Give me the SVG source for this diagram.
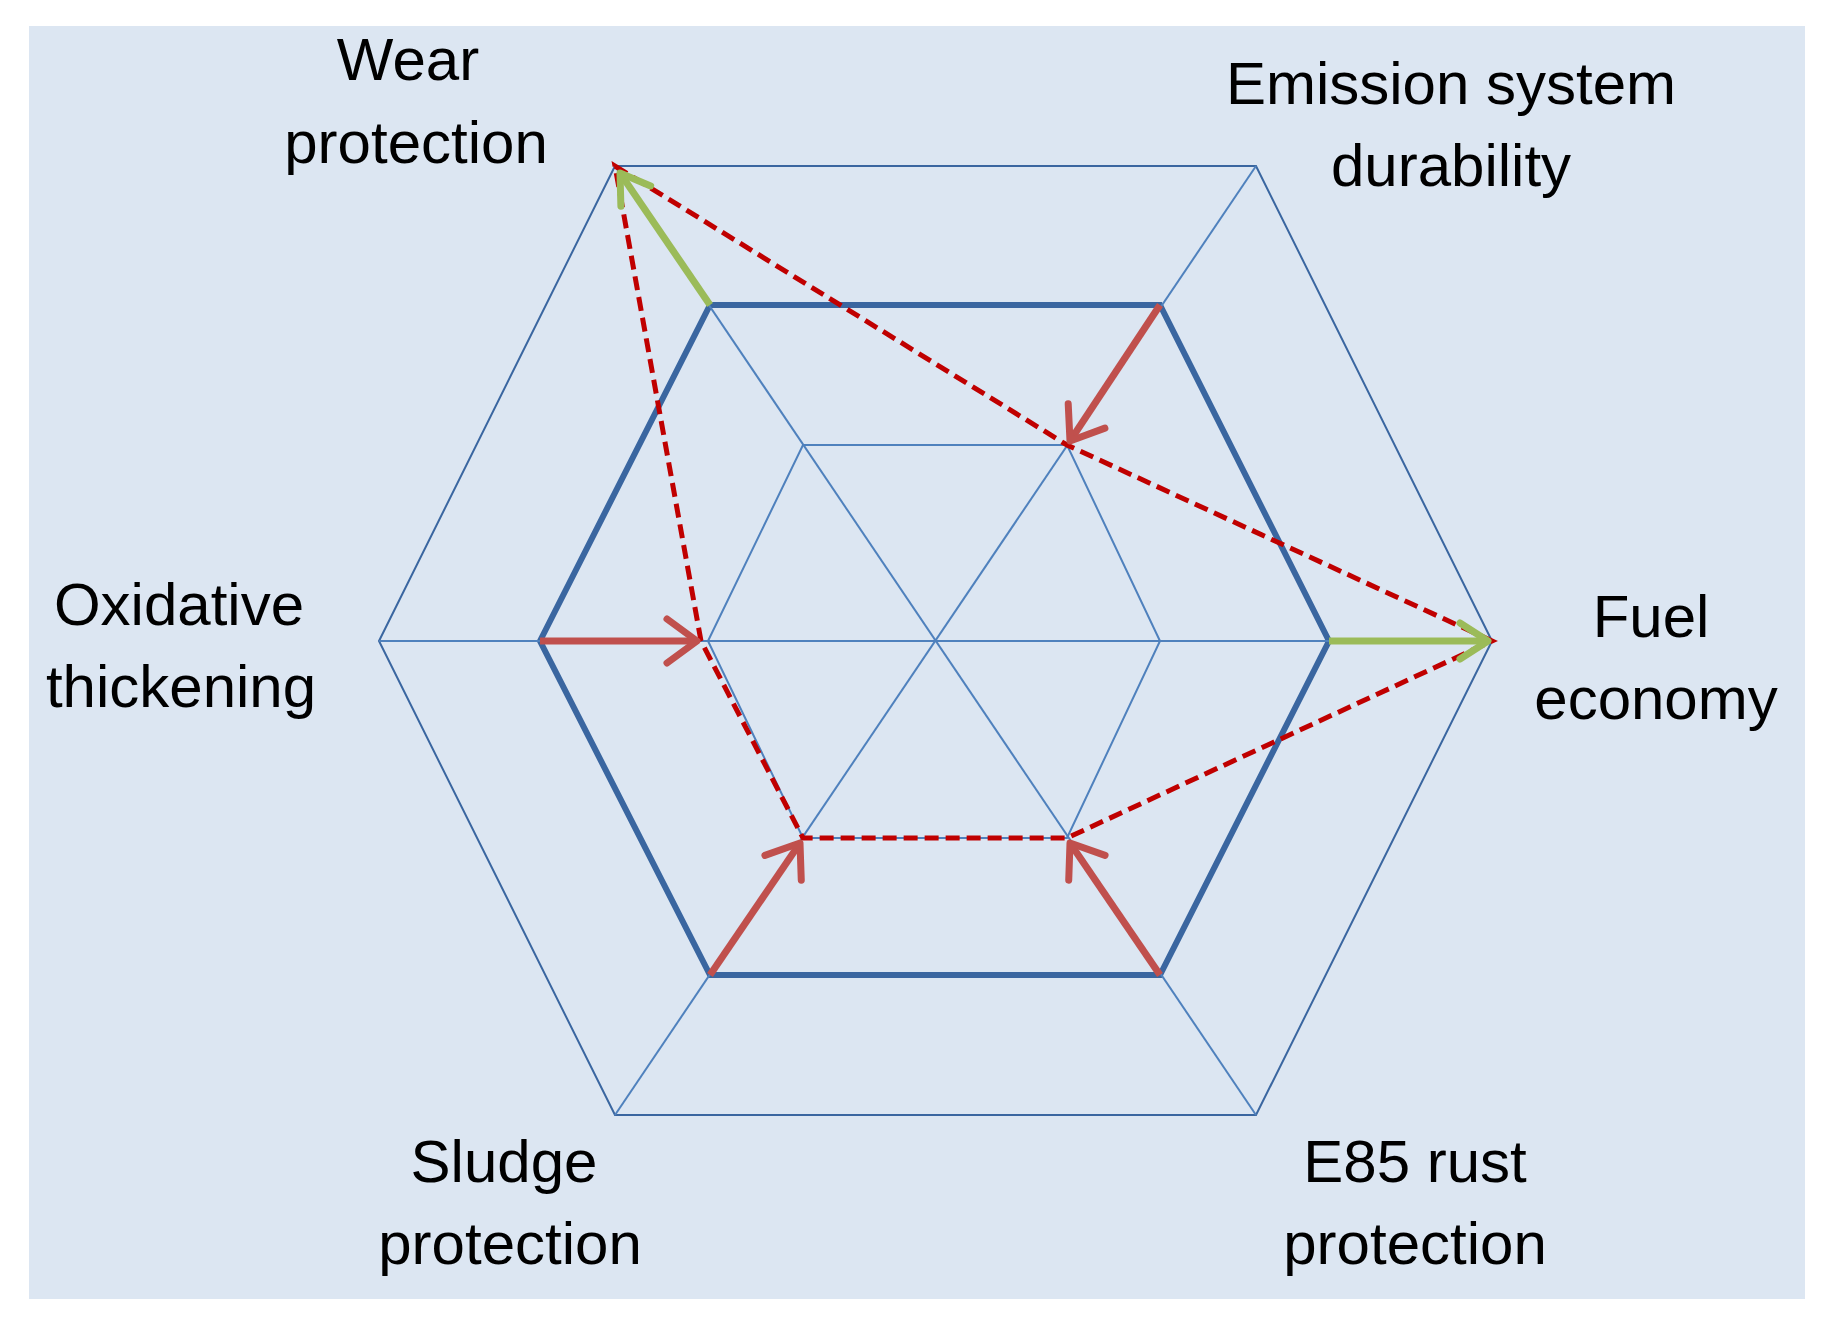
<svg xmlns="http://www.w3.org/2000/svg" width="1833" height="1324" viewBox="0 0 1833 1324">
<style>
.thin{fill:none;stroke:#4f81bd;stroke-width:2}
.outer{fill:none;stroke:#3a66a0;stroke-width:2}
.mid{fill:none;stroke:#3a66a0;stroke-width:6}
.dash{fill:none;stroke:#c00000;stroke-width:5;stroke-dasharray:14 7}
.ra{stroke:#c0504d;stroke-width:7;marker-end:url(#mr)}
.ga{stroke:#9bbb59;stroke-width:7;marker-end:url(#mg)}
text{font-family:"Liberation Sans",Arial,sans-serif;font-size:60px;fill:#000;text-anchor:middle}
</style>
<defs>
<marker id="mr" markerWidth="10" markerHeight="10" refX="8" refY="5" orient="auto" markerUnits="userSpaceOnUse" viewBox="0 0 10 10" style="overflow:visible">
<path d="M-22,-17 L8,5 L-22,27" fill="none" stroke="#c0504d" stroke-width="7" stroke-linecap="round" stroke-linejoin="round"/>
</marker>
<marker id="mg" markerWidth="10" markerHeight="10" refX="8" refY="5" orient="auto" markerUnits="userSpaceOnUse" viewBox="0 0 10 10" style="overflow:visible">
<path d="M-20,-13 L8,5 L-20,23" fill="none" stroke="#9bbb59" stroke-width="7" stroke-linecap="round" stroke-linejoin="round"/>
</marker>
</defs>
<rect x="29" y="26" width="1776" height="1273" fill="#dce6f2"/>
<g id="grid">
<polygon class="outer" points="379,641 615,166 1256,166 1492,641 1256,1115 615,1115"/>
<polygon class="mid" points="540,641 710,305 1160,305 1329,641 1160,975 710,975"/>
<polygon class="thin" points="708,641 803,445 1067,445 1160,641 1067,838 803,838"/>
<line class="thin" x1="379" y1="641" x2="1492" y2="641"/>
<line class="thin" x1="615" y1="166" x2="1256" y2="1115"/>
<line class="thin" x1="1256" y1="166" x2="615" y2="1115"/>
</g>
<g id="connectors">
<polygon class="dash" points="615,166 1067,445 1492,641 1067,838 803,838 701,641"/>
<line class="ga" x1="710" y1="305" x2="620" y2="173"/>
<line class="ga" x1="1329" y1="641" x2="1488" y2="641"/>
<line class="ra" x1="1160" y1="305" x2="1070" y2="441"/>
<line class="ra" x1="540" y1="641" x2="697" y2="641"/>
<line class="ra" x1="710" y1="975" x2="800" y2="843"/>
<line class="ra" x1="1160" y1="975" x2="1070" y2="843"/>
</g>
<g id="wear"><text x="408" y="80">Wear</text><text x="416" y="163">protection</text></g>
<g id="emission"><text x="1451" y="104">Emission system</text><text x="1451" y="186">durability</text></g>
<g id="oxidative"><text x="179" y="625">Oxidative</text><text x="181" y="707">thickening</text></g>
<g id="fuel"><text x="1651" y="637">Fuel</text><text x="1656" y="719">economy</text></g>
<g id="sludge"><text x="504" y="1182">Sludge</text><text x="510" y="1264">protection</text></g>
<g id="e85"><text x="1415" y="1182">E85 rust</text><text x="1415" y="1264">protection</text></g>
</svg>
